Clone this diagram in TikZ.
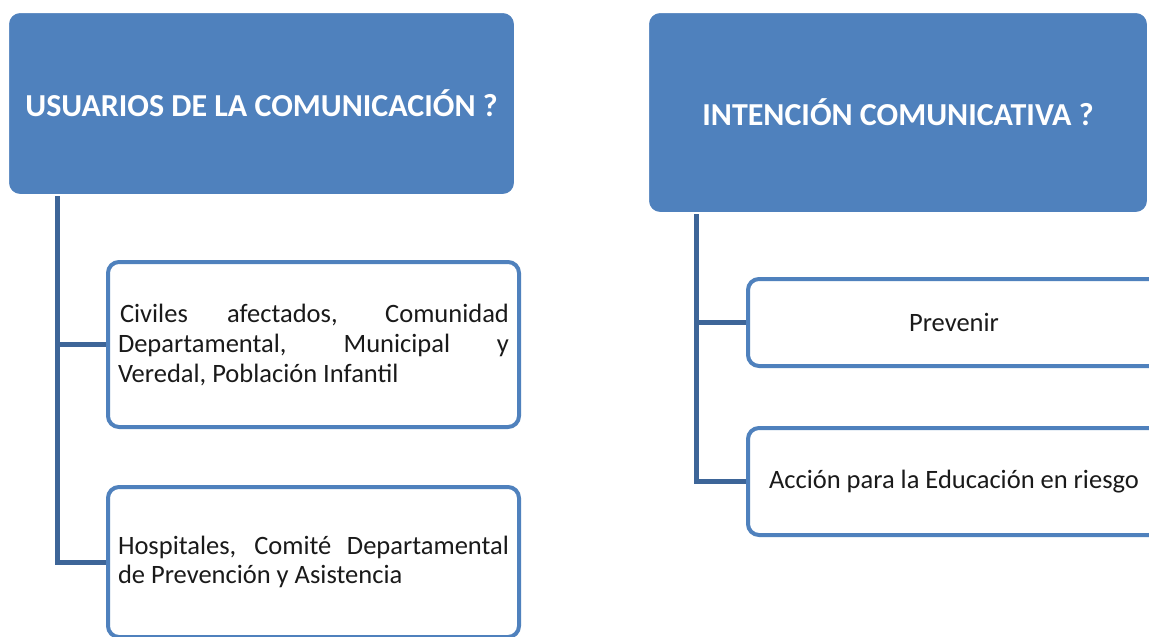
\documentclass[tikz,border=0pt]{standalone}
\usepackage{fontspec}
\setmainfont{Carlito}
\definecolor{hdrblue}{HTML}{4F81BD}
\definecolor{connblue}{HTML}{3D6598}
\definecolor{txtgray}{HTML}{1A1A1A}
\tikzset{
  header/.style={draw=white, line width=2pt, fill=hdrblue, rounded corners=12pt,
    text=white, font=\bfseries\fontsize{32}{36}\selectfont, align=center, inner sep=0pt},
  childbox/.style={draw=hdrblue, line width=4pt, fill=white, rounded corners=11pt,
    text=txtgray, font=\fontsize{26.5}{30}\selectfont, inner sep=0pt},
  conn/.style={draw=connblue, line width=5pt}
}
\begin{document}
\begin{tikzpicture}[x=1pt,y=-1pt]
\useasboundingbox (0,0) rectangle (1149,637);
\clip (0,0) rectangle (1149,637);
\fill[white] (0,0) rectangle (1149,637);
% left tree
\node[header, minimum width=507pt, minimum height=183pt] (h1) at (261.5,103.5) {USUARIOS DE LA COMUNICACIÓN ?};
\node[childbox, minimum width=411pt, minimum height=165pt] (c1) at (313.5,344.5)
  {\parbox{391pt}{\fontsize{26.5}{30}\selectfont \hspace*{2pt}Civiles afectados, Comunidad\linebreak Departamental, Municipal y\linebreak Veredal, Población Infantil}};
\node[childbox, minimum width=411pt, minimum height=150pt] (c2) at (313.5,562)
  {\parbox{391pt}{\fontsize{26.5}{29}\selectfont Hospitales, Comité Departamental\linebreak de Prevención y Asistencia}};
\coordinate (t1) at ([xshift=50pt]h1.south west);
\draw[conn] (t1) |- (c1.west);
\draw[conn] (t1) |- (c2.west);
% right tree
\node[header, minimum width=500pt, minimum height=201pt] (h2) at (898,112.5) {INTENCIÓN COMUNICATIVA ?};
\node[childbox, minimum width=412pt, minimum height=87pt] (c3) at (954,322.5) {Prevenir};
\node[childbox, minimum width=412pt, minimum height=107pt] (c4) at (954,481.5) {\raisebox{2pt}{Acción para la Educación en riesgo}};
\coordinate (t2) at ([xshift=49pt]h2.south west);
\draw[conn] (t2) |- (c3.west);
\draw[conn] (t2) |- (c4.west);
\end{tikzpicture}
\end{document}
